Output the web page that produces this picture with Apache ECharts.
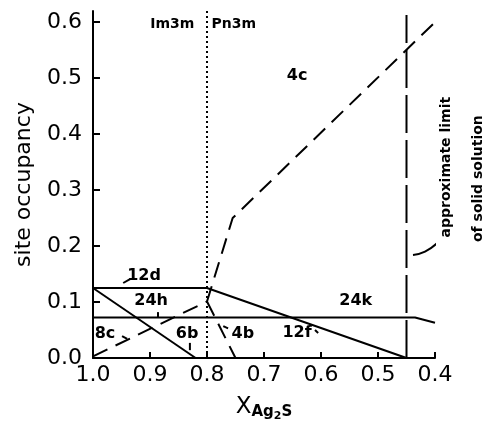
<!DOCTYPE html>
<html>
<head>
<meta charset="utf-8">
<script src="https://cdn.jsdelivr.net/npm/echarts@6/dist/echarts.min.js"></script>
<style>html,body{margin:0;padding:0;background:#fff}#c{width:485px;height:428px}</style>
</head>
<body>
<div id="c"></div>
<script>
// ---- data ----
const xTicks = [1.0, 0.9, 0.8, 0.7, 0.6, 0.5, 0.4];
const yTicks = [0.0, 0.1, 0.2, 0.3, 0.4, 0.5, 0.6];
const line12d12f = [[1.0, 0.125], [0.80, 0.125], [0.45, 0.0]];
const line24h = [[1.0, 0.125], [0.82, 0.0]];
const line24k = [[1.0, 0.0725], [0.435, 0.0725], [0.40, 0.063]];
const line8c = [[1.0, 0.003], [0.80, 0.101]];
const line4b = [[0.80, 0.101], [0.75, 0.0]];
const line4c = [[0.80, 0.101], [0.755, 0.25], [0.40, 0.60]];
const phaseBoundary = [[0.80, 0.0], [0.80, 0.62]];
const solidLimit = [[0.45, 0.0], [0.45, 0.613]];
const leaders = [
  [[0.947, 0.134], [0.935, 0.141]],
  [[0.886, 0.082], [0.886, 0.073]],
  [[0.949, 0.039], [0.940, 0.034]],
  [[0.830, 0.027], [0.830, 0.014]],
  [[0.7715, 0.057], [0.763, 0.053]],
  [[0.6105, 0.050], [0.605, 0.0446]]
];
const limitLeader = [[0.4386, 0.184], [0.4175, 0.190], [0.3965, 0.205]];
const siteLabels = [
  [0.642, 0.504, '4c'],
  [0.9105, 0.146, '12d'],
  [0.898, 0.102, '24h'],
  [0.979, 0.043, '8c'],
  [0.835, 0.043, '6b'],
  [0.737, 0.043, '4b'],
  [0.642, 0.045, '12f'],
  [0.539, 0.102, '24k']
];
const phaseLabels = [
  [0.861, 0.596, 'Im3m'],
  [0.753, 0.596, 'Pn3m']
];
const limitLabels = [
  [0.3807, 0.341, 'approximate limit'],
  [0.3246, 0.3205, 'of solid solution']
];

// ---- chart ----
const FONT = 'DejaVu Sans';
const chart = echarts.init(document.getElementById('c'), null, {renderer: 'canvas'});
function lineSeries(data, type, smooth) {
  return {
    type: 'line', data: data, symbol: 'none', smooth: !!smooth, silent: true,
    clip: false, animation: false,
    lineStyle: {color: '#000', width: 2, type: type || 'solid'}
  };
}
function textSeries(data, size, rotate) {
  return {
    type: 'scatter', data: data, symbolSize: 1, silent: true, clip: false,
    animation: false, itemStyle: {color: 'rgba(0,0,0,0)'},
    label: {
      show: true, position: [0.5, 0.5], align: 'center', verticalAlign: 'middle',
      rotate: rotate || 0, textBorderWidth: 0, opacity: 1,
      formatter: p => p.data[2], color: '#000', fontFamily: FONT,
      fontWeight: 'bold', fontSize: size
    }
  };
}
const series = [
  lineSeries(line12d12f),
  lineSeries(line24h),
  lineSeries(line24k),
  lineSeries(line8c, [16, 9]),
  lineSeries(line4b, [16, 9]),
  lineSeries(line4c, [16, 9]),
  lineSeries(phaseBoundary, [2, 3]),
  lineSeries(solidLimit, [38, 7]),
  lineSeries(limitLeader, 'solid', true)
];
leaders.forEach(l => series.push(lineSeries(l)));
series.push(textSeries(siteLabels, 16));
series.push(textSeries(phaseLabels, 14));
series.push(textSeries(limitLabels, 14, 90));

chart.setOption({
  animation: false,
  grid: {left: 93, right: 50, top: 11, bottom: 70},
  xAxis: {
    type: 'value', min: 0.4, max: 1.0, inverse: true,
    name: '{x|X}{s|Ag}{t|2}{s|S}', nameLocation: 'middle', nameGap: 38,
    nameTextStyle: {
      rich: {
        x: {fontSize: 23, fontFamily: FONT, color: '#000', verticalAlign: 'top', lineHeight: 24},
        s: {fontSize: 15, fontFamily: FONT, fontWeight: 'bold', color: '#000', verticalAlign: 'top', lineHeight: 16, padding: [9, 0, 0, 0]},
        t: {fontSize: 11, fontFamily: FONT, fontWeight: 'bold', color: '#000', verticalAlign: 'top', lineHeight: 12, padding: [15, 0, 0, 0]}
      }
    },
    axisLine: {lineStyle: {color: '#000', width: 2}},
    axisTick: {inside: true, length: 6, lineStyle: {width: 2, color: '#000'}, customValues: xTicks},
    axisLabel: {customValues: xTicks, formatter: v => v.toFixed(1), fontSize: 22, fontFamily: FONT, color: '#000', margin: 6},
    splitLine: {show: false}
  },
  yAxis: {
    type: 'value', min: 0, max: 0.62,
    name: 'site occupancy', nameLocation: 'middle', nameGap: 58,
    nameTextStyle: {fontSize: 22, fontFamily: FONT, color: '#000'},
    axisLine: {lineStyle: {color: '#000', width: 2}},
    axisTick: {inside: true, length: 7, lineStyle: {width: 2, color: '#000'}, customValues: yTicks},
    axisLabel: {customValues: yTicks, formatter: v => v.toFixed(1), fontSize: 22, fontFamily: FONT, color: '#000', margin: 11},
    splitLine: {show: false}
  },
  series: series
});
</script>
</body>
</html>
